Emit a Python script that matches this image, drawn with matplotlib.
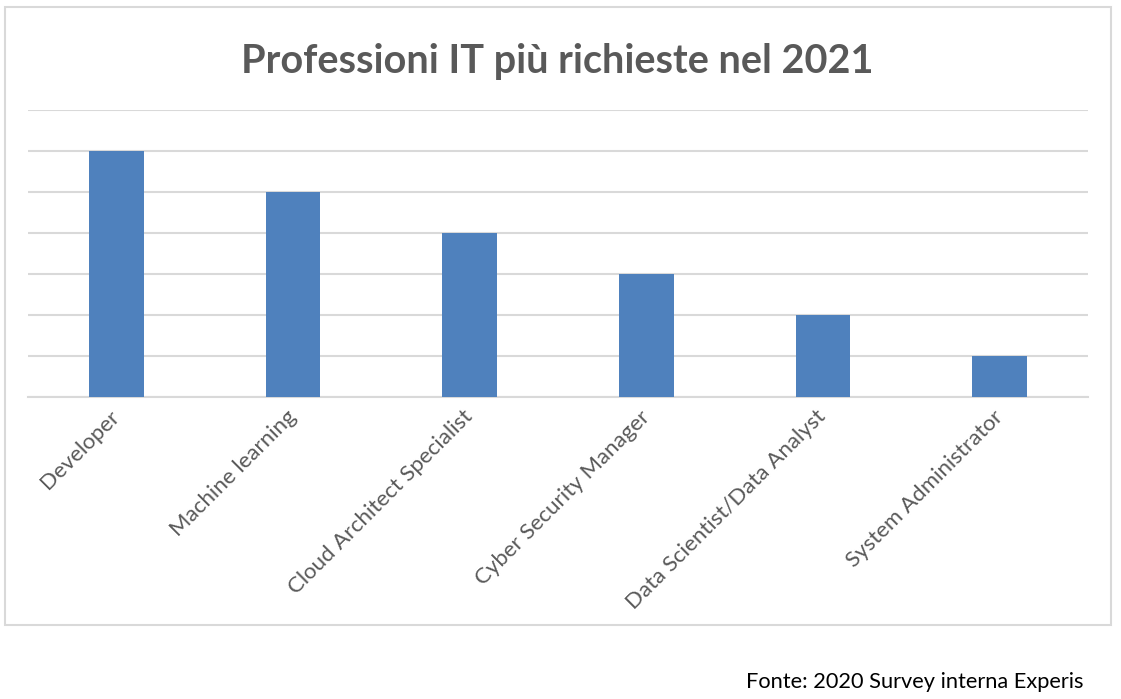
import matplotlib.pyplot as plt
from matplotlib.patches import Rectangle

plt.rcParams['font.family'] = ['Lato', 'DejaVu Sans']

categories = ['Developer', 'Machine learning', 'Cloud Architect Specialist',
              'Cyber Security Manager', 'Data Scientist/Data Analyst',
              'System Administrator']
values = [6, 5, 4, 3, 2, 1]

W, H = 1121, 699
fig = plt.figure(figsize=(W / 100, H / 100), dpi=100)

# outer chart frame
fig.patches.append(Rectangle((5 / W, 1 - 625 / H), (1111 - 5) / W, (625 - 7) / H,
                             transform=fig.transFigure, fill=False,
                             edgecolor='#d9d9d9', lw=1.5))

ax = fig.add_axes([28 / W, 1 - 397 / H, (1088 - 28) / W, (397 - 110) / H])
x = range(len(categories))
ax.bar(x, values, width=0.31, color='#4f81bd', zorder=3)
ax.set_xlim(-0.5, len(categories) - 0.5)
ax.set_ylim(0, 7)
ax.set_yticks(range(0, 8))
ax.yaxis.grid(True, color='#d9d9d9', lw=1.5, zorder=0)
ax.tick_params(axis='y', left=False, labelleft=False)
ax.tick_params(axis='x', length=0, pad=12)
ax.set_xticks(list(x))
ax.set_xticklabels(categories, rotation=45, ha='right', va='center',
                   rotation_mode='anchor', fontsize=16, color='#595959')
for s in ['top', 'right', 'left']:
    ax.spines[s].set_visible(False)
ax.spines['bottom'].set_color('#d9d9d9')
ax.spines['bottom'].set_linewidth(1.5)

fig.text(557 / W, 1 - 62 / H, 'Professioni IT più richieste nel 2021',
         ha='center', va='center', fontsize=28.5, fontweight='bold', color='#595959')
fig.text(1083 / W, 1 - 682 / H, 'Fonte: 2020 Survey interna Experis',
         ha='right', va='center', fontsize=15.7, color='black')

fig.savefig('out.png', dpi=100)
